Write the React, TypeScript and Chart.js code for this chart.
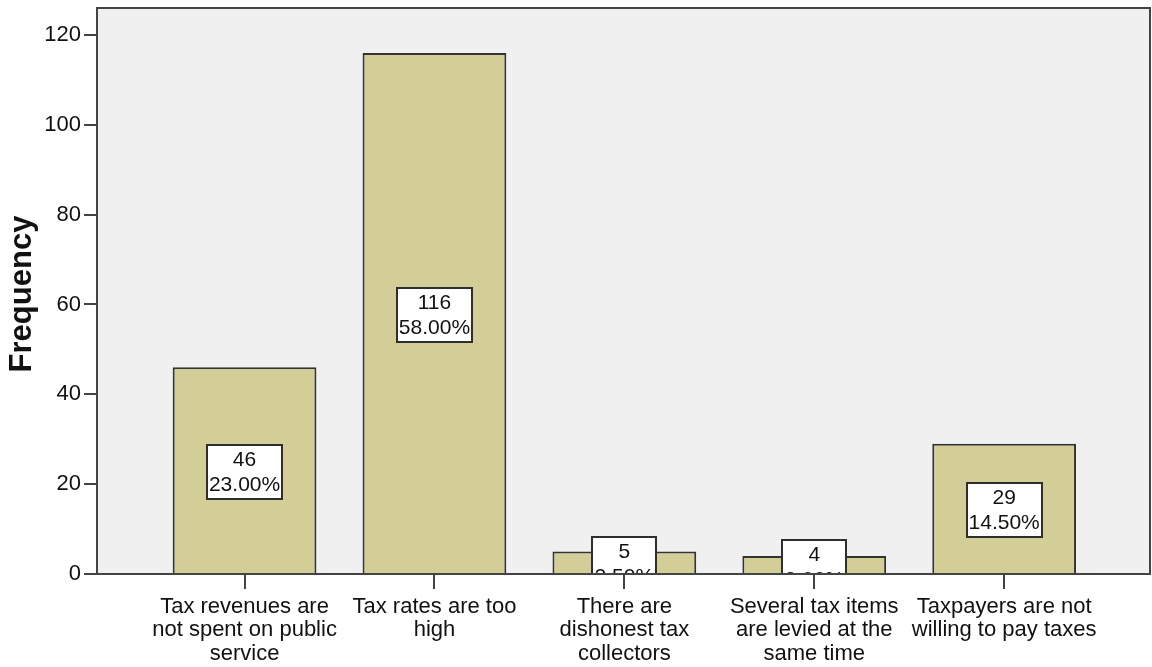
import React, { useEffect, useRef } from 'react';
import { Chart, registerables } from 'chart.js';

Chart.register(...registerables);

const categories: string[][] = [
  ['Tax revenues are', 'not spent on public', 'service'],
  ['Tax rates are too', 'high'],
  ['There are', 'dishonest tax', 'collectors'],
  ['Several tax items', 'are levied at the', 'same time'],
  ['Taxpayers are not', 'willing to pay taxes'],
];
const frequencies = [46, 116, 5, 4, 29];
const percentages = ['23.00%', '58.00%', '2.50%', '2.00%', '14.50%'];
const yAxisTitle = 'Frequency';

const FONT = '"Liberation Sans", Arial, Helvetica, sans-serif';

export default function App() {
  const ref = useRef<HTMLCanvasElement | null>(null);

  useEffect(() => {
    document.body.style.margin = '0';
    const canvas = ref.current;
    if (!canvas) return;

    const framePlugin = {
      id: 'frame',
      beforeDraw(chart: any) {
        const { ctx, chartArea: a } = chart;
        ctx.save();
        ctx.fillStyle = '#ffffff';
        ctx.fillRect(0, 0, chart.width, chart.height);
        ctx.fillStyle = '#f0f0f0';
        ctx.fillRect(a.left, a.top, a.right - a.left, a.bottom - a.top);
        ctx.restore();
      },
      afterDatasetsDraw(chart: any) {
        const { ctx, chartArea: a } = chart;
        const meta = chart.getDatasetMeta(0);
        ctx.save();
        ctx.beginPath();
        ctx.rect(a.left, a.top, a.right - a.left, a.bottom - a.top);
        ctx.clip();
        ctx.font = '21px ' + FONT;
        const lh = 25;
        meta.data.forEach((bar: any, i: number) => {
          const lines = [String(frequencies[i]), percentages[i]];
          const w = Math.round(Math.max(...lines.map((l) => ctx.measureText(l).width)) + 4);
          const h = lh * 2 + 4;
          const cy = (bar.y + bar.base) / 2 + 2;
          const x0 = Math.round(bar.x - w / 2);
          const y0 = Math.round(cy - h / 2);
          ctx.fillStyle = '#ffffff';
          ctx.fillRect(x0, y0, w, h);
          ctx.strokeStyle = '#2e2e2e';
          ctx.lineWidth = 2;
          ctx.strokeRect(x0, y0, w, h);
          ctx.fillStyle = '#111111';
          ctx.textAlign = 'center';
          ctx.textBaseline = 'middle';
          lines.forEach((l, j) => ctx.fillText(l, bar.x, y0 + 3 + lh * j + lh / 2));
        });
        ctx.restore();
      },
      afterDraw(chart: any) {
        const { ctx, chartArea: a } = chart;
        ctx.save();
        ctx.strokeStyle = '#444444';
        ctx.lineWidth = 2;
        ctx.strokeRect(a.left, a.top, a.right - a.left, a.bottom - a.top);
        ctx.translate(31, (a.top + a.bottom) / 2 + 3);
        ctx.rotate(-Math.PI / 2);
        ctx.font = 'bold 31px ' + FONT;
        ctx.fillStyle = '#111111';
        ctx.textAlign = 'center';
        ctx.textBaseline = 'alphabetic';
        ctx.fillText(yAxisTitle, 0, 0);
        ctx.restore();
      },
    };

    const chart = new Chart(canvas, {
      type: 'bar',
      data: {
        datasets: [
          {
            data: frequencies.map((v, i) => ({ x: i, y: v })),
            backgroundColor: '#d3ce97',
            borderColor: '#333333',
            borderWidth: 2,
            barPercentage: 0.757,
            categoryPercentage: 1,
          },
        ],
      },
      options: {
        animation: false,
        responsive: false,
        devicePixelRatio: 1,
        layout: { padding: { top: 8, right: 2, left: 0, bottom: 0 } },
        plugins: { legend: { display: false }, tooltip: { enabled: false } },
        scales: {
          x: {
            type: 'linear',
            offset: false,
            bounds: 'data',
            min: -0.777,
            max: 4.768,
            afterBuildTicks: (s: any) => {
              s.ticks = categories.map((_, i) => ({ value: i }));
            },
            afterFit: (s: any) => {
              s.height = 93;
              s.paddingLeft = 0;
              s.paddingRight = 0;
            },
            ticks: {
              autoSkip: false,
              maxRotation: 0,
              minRotation: 0,
              padding: 6,
              color: '#111111',
              font: { family: FONT, size: 22, lineHeight: 1.07 },
              callback: (v: any) => categories[v as number],
            },
            grid: {
              offset: false,
              drawOnChartArea: false,
              drawTicks: true,
              tickLength: 15,
              color: '#444444',
              lineWidth: 2,
            },
            border: { display: false },
          },
          y: {
            type: 'linear',
            min: 0,
            max: 126,
            afterFit: (s: any) => {
              s.width = 97;
              s.paddingTop = 0;
              s.paddingBottom = 0;
            },
            ticks: {
              stepSize: 20,
              includeBounds: false,
              padding: 3,
              color: '#111111',
              font: { family: FONT, size: 22 },
            },
            grid: {
              drawOnChartArea: false,
              drawTicks: true,
              tickLength: 13,
              color: '#444444',
              lineWidth: 2,
            },
            border: { display: false },
          },
        },
      },
      plugins: [framePlugin],
    } as any);

    return () => chart.destroy();
  }, []);

  return (
    <div style={{ width: 1152, height: 667 }}>
      <canvas ref={ref} width={1152} height={667} style={{ display: 'block', width: 1152, height: 667 }} />
    </div>
  );
}
